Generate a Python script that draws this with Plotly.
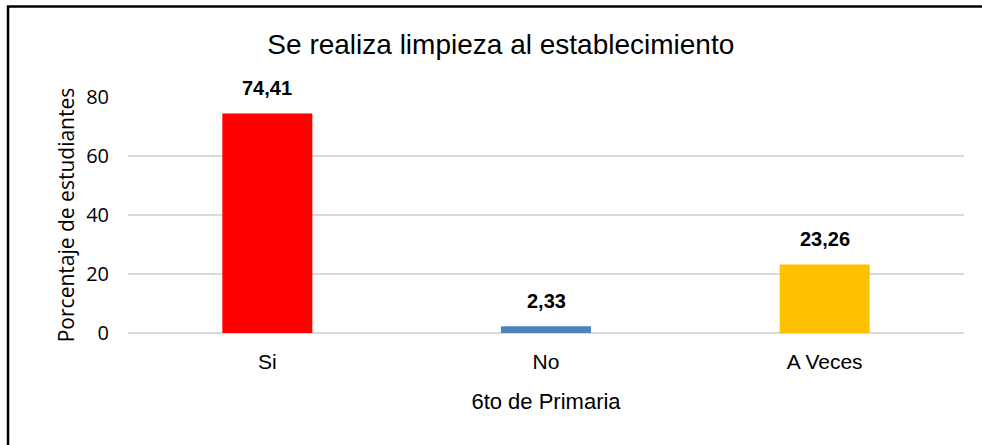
# -*- coding: utf-8 -*-
"""Limpieza del establecimiento — 6to de Primaria (porcentaje de estudiantes)."""

import plotly.graph_objects as go

categorias = ["Si", "No", "A Veces"]
porcentajes = [74.41, 2.33, 23.26]
colores = ["#FF0000", "#4F81BD", "#FFC000"]
ticks_y = [0, 20, 40, 60, 80]

NARROW = "Liberation Sans Narrow, Arial Narrow, Liberation Sans, sans-serif"
CALIBRI_LIKE = "Open Sans, Noto Sans, sans-serif"

fig = go.Figure(
    go.Bar(
        x=categorias,
        y=porcentajes,
        marker=dict(color=colores, line=dict(width=0)),
        width=0.323,
        hoverinfo="skip",
    )
)

# Etiquetas de datos sobre cada barra (negrita, coma decimal)
for cat, val in zip(categorias, porcentajes):
    fig.add_annotation(
        x=cat,
        y=val,
        text=f"<b>{val:.2f}</b>".replace(".", ","),
        showarrow=False,
        yanchor="bottom",
        yshift=12,
        font=dict(family=NARROW, size=20, color="#000"),
    )

# Marco del gráfico (solo se ven el borde superior e izquierdo)
fig.add_shape(
    type="rect",
    xref="paper",
    yref="paper",
    x0=-0.1435,
    x1=1.2,
    y0=-0.7,
    y1=1.383,
    line=dict(color="#000", width=2.5),
    fillcolor="rgba(0,0,0,0)",
)

fig.update_layout(
    width=982,
    height=445,
    separators=", ",
    margin=dict(l=128, r=18, t=97, b=112),
    plot_bgcolor="white",
    paper_bgcolor="white",
    showlegend=False,
    title=dict(
        text="Se realiza limpieza al establecimiento",
        x=0.51,
        xref="container",
        xanchor="center",
        y=0.9,
        yref="container",
        yanchor="middle",
        font=dict(family=NARROW, size=28, color="#000"),
    ),
)
fig.update_xaxes(
    showgrid=False,
    showline=False,
    ticks="",
    ticklabelstandoff=14,
    tickfont=dict(family=NARROW, size=21, color="#000"),
    title=dict(
        text="6to de Primaria",
        standoff=21,
        font=dict(family=NARROW, size=22, color="#000"),
    ),
)
fig.update_yaxes(
    range=[0, 80],
    tickvals=ticks_y,
    showgrid=True,
    gridcolor="#D9D9D9",
    gridwidth=1.5,
    zeroline=True,
    zerolinecolor="#D9D9D9",
    zerolinewidth=1.5,
    showline=False,
    ticks="",
    ticklabelstandoff=18,
    tickfont=dict(family=CALIBRI_LIKE, size=20, color="#000"),
    title=dict(
        text="Porcentaje de estudiantes",
        standoff=5,
        font=dict(family=CALIBRI_LIKE, size=21, color="#000"),
    ),
)

# La página no debe tener margen propio: la figura empieza en (0, 0)
fig.write_html(
    "out.html",
    config={"displayModeBar": False},
    post_script="document.body.style.margin='0';document.body.style.padding='0';",
)
